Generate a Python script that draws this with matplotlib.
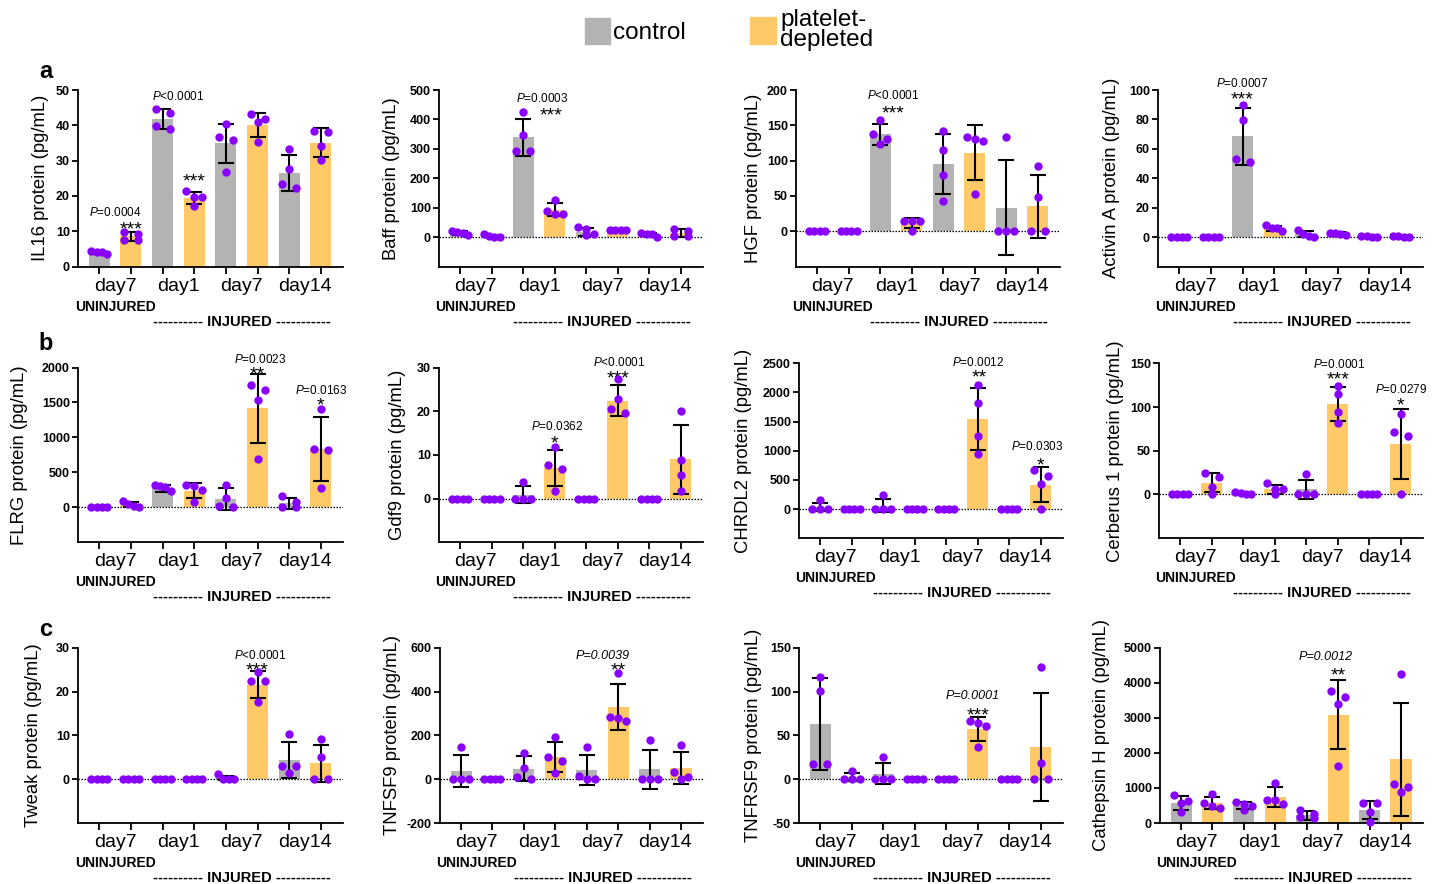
import matplotlib.pyplot as plt
from matplotlib.patches import Rectangle
import numpy as np

plt.rcParams['font.family'] = 'Liberation Sans'
plt.rcParams['mathtext.fontset'] = 'custom'
plt.rcParams['mathtext.rm'] = 'Liberation Sans'
plt.rcParams['mathtext.it'] = 'Liberation Sans:italic'

W, H = 1438, 884
GRAY = '#b3b3b3'
ORANGE = '#fec966'
PURPLE = '#8800ff'

day_labels = ['day7', 'day1', 'day7', 'day14']

# ---- data: 8 groups per panel (control / platelet-depleted alternating)
il16_mean = [3.8, 8.5, 41.7, 19.4, 34.9, 40.2, 26.5, 35.1]
il16_sd = [0.4, 1.2, 2.8, 1.7, 5.6, 3.4, 5.0, 4.0]
il16_pts = [[3.6, 4.5, 4.0, 4.0], [7.5, 9.2, 9.9, 7.5], [43.6, 44.5, 38.9, 39.9], [21.4, 19.8, 19.8, 17.2],
            [40.4, 36.6, 35.8, 26.9], [41.7, 43.2, 40.8, 35.4], [33.3, 27.5, 22.2, 23.3], [38.0, 38.5, 34.2, 30.2]]

baff_mean = [14, 3, 339, 93, 18, 24, 8.5, 14]
baff_sd = [5.5, 4, 63, 22, 13, 1, 6, 14]
baff_pts = [[6, 19, 14, 17], [0, 9, 0, 2], [425, 348, 291, 291], [126, 88, 80, 80],
            [34, 29, 6, 11], [25, 25, 25, 23], [0, 14, 9, 11], [3, 21, 29, 2]]

hgf_mean = [0, 0, 137, 11, 95, 111, 33.5, 35]
hgf_sd = [0, 0, 15, 7, 43, 39, 67.5, 45]
hgf_pts = [[0, 0, 0, 0], [0, 0, 0, 0], [157, 138, 130, 123], [15, 15, 15, 0],
           [142, 115, 79, 43], [133, 128, 130, 52], [134, 0, 0, 0], [92, 49, 0, 0]]

act_mean = [0, 0, 68.5, 6, 2, 2.5, 0.3, 0.25]
act_sd = [0, 0, 19.4, 1.7, 1.8, 0.7, 0.3, 0.3]
act_pts = [[0, 0, 0, 0], [0, 0, 0, 0], [90, 79.5, 51, 53.4], [4, 8, 6.4, 6.4],
           [0, 4.5, 1, 2.3], [1.6, 3, 2.3, 3], [0, 0.7, 0.5, 0], [0, 0.5, 0.5, 0]]

flrg_mean = [0, 40, 270, 240, 118, 1416, 58, 835]
flrg_sd = [0, 42, 45, 110, 157, 490, 76, 460]
flrg_pts = [[0, 0, 0, 0], [0, 95, 14, 52], [324, 229, 300, 290], [324, 252, 310, 71],
            [324, 133, 0, 14], [1681, 1752, 1538, 695], [0, 76, 157, 0], [1410, 838, 814, 276]]

gdf9_mean = [0, 0, 0.93, 7.0, 0, 22.4, 0, 9.0]
gdf9_sd = [0, 0, 1.85, 4.1, 0, 3.6, 0, 7.9]
gdf9_pts = [[0, 0, 0, 0], [0, 0, 0, 0], [3.7, 0, 0, 0], [11.8, 7.7, 6.8, 1.8],
            [0, 0, 0, 0], [27.3, 22.8, 19.5, 20.5], [0, 0, 0, 0], [20, 8.9, 5.5, 1.7]]

chrdl2_mean = [37, 0, 58, 0, 0, 1540, 0, 420]
chrdl2_sd = [70, 0, 117, 0, 0, 533, 0, 297]
chrdl2_pts = [[148, 0, 0, 0], [0, 0, 0, 0], [234, 0, 0, 0], [0, 0, 0, 0],
              [0, 0, 0, 0], [2129, 1826, 1256, 947], [0, 0, 0, 0], [571, 673, 434, 0]]

cer_mean = [0, 13.3, 1.05, 6, 5.7, 103.5, 0, 57.6]
cer_sd = [0, 11, 1.2, 5.2, 11.4, 19, 0, 40]
cer_pts = [[0, 0, 0, 0], [19.5, 24.8, 8.8, 0], [0, 2.3, 0, 1.9], [12.6, 5.7, 5.7, 0],
           [22.9, 0, 0, 0], [124, 115, 94.7, 81.3], [0, 0, 0, 0], [92, 71.8, 66.8, 0]]

tweak_mean = [0, 0, 0, 0, 0.3, 21.6, 4.45, 3.6]
tweak_sd = [0, 0, 0, 0, 0.5, 3, 4.1, 4.3]
tweak_pts = [[0, 0, 0, 0], [0, 0, 0, 0], [0, 0, 0, 0], [0, 0, 0, 0],
             [0, 1.1, 0.15, 0], [24.4, 22.3, 22.3, 17.5], [10.4, 1.4, 3, 3], [9.2, 5.1, 0, 0]]

tnfsf9_mean = [37, 0, 46.5, 102, 40.5, 328, 44.5, 50]
tnfsf9_sd = [72, 0, 57, 67, 69, 105, 90, 72]
tnfsf9_pts = [[147, 0, 0, 0], [0, 0, 0, 0], [121, 53, 0, 12], [192, 103, 83, 30],
              [147, 0, 15, 0], [484, 267, 284, 277], [178, 0, 0, 0], [156, 33, 0, 11]]

tnfrsf9_mean = [63, 2.4, 6.3, 0, 0, 57, 0, 36.8]
tnfrsf9_sd = [53, 4.7, 12.3, 0, 0, 13.6, 0, 61.4]
tnfrsf9_pts = [[117, 101, 17, 17], [0, 9.4, 0, 0], [25.3, 0, 0, 0], [0, 0, 0, 0],
               [0, 0, 0, 0], [66, 64.2, 60.4, 37], [0, 0, 0, 0], [128.4, 18.9, 0, 0]]

cath_mean = [575, 573, 497, 748, 225, 3087, 369, 1813]
cath_sd = [200, 180, 95, 284, 128, 985, 260, 1620]
cath_pts = [[805, 616, 568, 312], [824, 426, 568, 473], [597, 540, 473, 379], [1155, 549, 644, 644],
            [379, 265, 142, 170], [3580, 3760, 3380, 1629], [568, 568, 312, 28], [4242, 1117, 871, 1023]]

# annotations: (x of P text, y of P text, P text, x of stars, y of stars, stars)
il16_ann = [(0.52, 15.6, '=0.0004', 1.0, 12.3, '***'), (2.5, 48.3, '<0.0001', 3.0, 25.7, '***')]
baff_ann = [(2.61, 474, '=0.0003', 2.89, 434, '***')]
hgf_ann = [(2.42, 194, '<0.0001', 2.41, 176, '***')]
act_ann = [(2.0, 105, '=0.0007', 2.0, 97.7, '***')]
flrg_ann = [(5.07, 2119, '=0.0023', 5.0, 1990, '**'), (7.0, 1681, '=0.0163', 7.0, 1538, '*')]
gdf9_ann = [(3.07, 16.6, '=0.0362', 3.0, 14.0, '*'), (5.05, 31.3, '<0.0001', 5.0, 29.0, '***')]
chrdl2_ann = [(5.0, 2529, '=0.0012', 5.05, 2357, '**'), (6.88, 1084, '=0.0303', 7.0, 856, '*')]
cer_ann = [(5.05, 150, '=0.0001', 5.02, 138.5, '***'), (7.0, 121.4, '=0.0279', 7.0, 108.8, '*')]
tweak_ann = [(5.08, 28.5, '<0.0001', 5.0, 26.2, '***')]
tnfsf9_ann = [(4.52, 570, '=0.0039', 5.0, 524, '**')]
tnfrsf9_ann = [(4.84, 96.3, '=0.0001', 5.0, 80, '***')]
cath_ann = [(4.61, 4782, '=0.0012', 5.0, 4375, '**')]

panels = [
    ('IL16 protein (pg/mL)', il16_mean, il16_sd, il16_pts, (0, 50), np.arange(0, 51, 10), il16_ann, False),
    ('Baff protein (pg/mL)', baff_mean, baff_sd, baff_pts, (-100, 500), np.arange(0, 501, 100), baff_ann, False),
    ('HGF protein (pg/mL)', hgf_mean, hgf_sd, hgf_pts, (-50, 200), np.arange(0, 201, 50), hgf_ann, False),
    ('Activin A protein (pg/mL)', act_mean, act_sd, act_pts, (-20, 100), np.arange(0, 101, 20), act_ann, False),
    ('FLRG protein (pg/mL)', flrg_mean, flrg_sd, flrg_pts, (-500, 2000), np.arange(0, 2001, 500), flrg_ann, False),
    ('Gdf9 protein (pg/mL)', gdf9_mean, gdf9_sd, gdf9_pts, (-10, 30), np.arange(0, 31, 10), gdf9_ann, False),
    ('CHRDL2 protein (pg/mL)', chrdl2_mean, chrdl2_sd, chrdl2_pts, (-500, 2500), np.arange(0, 2501, 500), chrdl2_ann, False),
    ('Cerberus 1 protein (pg/mL)', cer_mean, cer_sd, cer_pts, (-50, 150), np.arange(0, 151, 50), cer_ann, False),
    ('Tweak protein (pg/mL)', tweak_mean, tweak_sd, tweak_pts, (-10, 30), np.arange(0, 31, 10), tweak_ann, False),
    ('TNFSF9 protein (pg/mL)', tnfsf9_mean, tnfsf9_sd, tnfsf9_pts, (-200, 600), np.arange(-200, 601, 200), tnfsf9_ann, True),
    ('TNFRSF9 protein (pg/mL)', tnfrsf9_mean, tnfrsf9_sd, tnfrsf9_pts, (-50, 150), np.arange(-50, 151, 50), tnfrsf9_ann, True),
    ('Cathepsin H protein (pg/mL)', cath_mean, cath_sd, cath_pts, (0, 5000), np.arange(0, 5001, 1000), cath_ann, True),
]

# axes boxes in pixels: left, top, right, bottom ; ylabel distance from spine
boxes = [(78, 90, 343, 266.5), (439, 90, 703, 266.5), (796, 90, 1060, 266.5), (1158, 90, 1423, 266.5),
         (78, 367.5, 343, 542.3), (439, 367.5, 703, 542.3), (799, 363.3, 1063, 538.2), (1159, 363.3, 1423, 538.2),
         (78, 647.7, 343, 823), (440, 647.7, 703, 823), (799, 647.7, 1063, 823), (1160, 647.7, 1423, 823)]
ylab_off = [39, 49, 44, 48, 60, 43, 57, 45, 46, 49, 47, 60]

XLIM = (-0.67, 7.7)
colors = [GRAY, ORANGE] * 4


def swarm(vals, ppu_y, ppu_x):
    vals = np.asarray(vals, dtype=float)
    order = np.argsort(-vals, kind='stable')
    offs = np.zeros(len(vals))
    rows = []
    for idx in order:
        if rows and abs(vals[rows[-1][0]] - vals[idx]) * ppu_y < 7:
            rows[-1].append(idx)
        else:
            rows.append([idx])
    for row in rows:
        k = len(row)
        if k == 1:
            continue
        span = 14 if k == 2 else 16
        for j, idx in enumerate(row):
            offs[idx] = (-span / 2 + j * span / (k - 1)) / ppu_x
    return offs


fig = plt.figure(figsize=(W / 100, H / 100), dpi=100)

for i, (ylab, mean, sd, pts, ylim, yticks, ann, ital) in enumerate(panels):
    L, T, R, B = boxes[i]
    ax = fig.add_axes([L / W, 1 - B / H, (R - L) / W, (B - T) / H])
    x = np.arange(8)
    ax.bar(x, mean, width=0.67, color=colors, zorder=1)
    if ylim[0] < 0:
        ax.axhline(0, color='black', lw=0.9, ls=(0, (1.2, 1.2)), zorder=1.5)
    sd = np.asarray(sd, dtype=float)
    m = sd > 0
    ax.errorbar(x[m], np.asarray(mean)[m], yerr=sd[m], fmt='none', ecolor='black',
                elinewidth=1.5, capsize=6, capthick=1.5, zorder=3)
    ppu_y = (B - T) / (ylim[1] - ylim[0])
    ppu_x = (R - L) / (XLIM[1] - XLIM[0])
    for g in range(8):
        off = swarm(pts[g], ppu_y, ppu_x)
        ax.scatter(g + off, pts[g], s=36, color=PURPLE, zorder=4, linewidths=0, clip_on=False)

    ax.set_xlim(*XLIM)
    ax.set_ylim(*ylim)
    ax.set_yticks(yticks)
    ax.set_yticklabels([str(int(v)) for v in yticks], fontsize=9, fontweight='bold')
    ax.set_xticks(x)
    ax.set_xticklabels([])
    ax.tick_params(axis='y', length=4.3, width=1.3, pad=1.5)
    ax.tick_params(axis='x', length=5, width=1.3)
    for s in ['top', 'right']:
        ax.spines[s].set_visible(False)
    for s in ['left', 'bottom']:
        ax.spines[s].set_linewidth(1.3)
    ax.set_ylabel(ylab, fontsize=13.3)
    ax.yaxis.set_label_coords(-(ylab_off[i] - 10) / (R - L), 0.5)

    xt = ax.get_xaxis_transform()
    for k, lab in enumerate(day_labels):
        ax.annotate(lab, (2 * k + 0.5, 0), xycoords=xt, xytext=(0, -17.3), textcoords='offset points',
                    ha='center', va='baseline', fontsize=14, annotation_clip=False)
    ax.annotate('UNINJURED', (0.5, 0), xycoords=xt, xytext=(0, -31.7), textcoords='offset points',
                ha='center', va='baseline', fontsize=10, fontweight='bold', annotation_clip=False)
    ax.annotate('---------- INJURED -----------', (4.5, 0), xycoords=xt, xytext=(0, -42.5),
                textcoords='offset points', ha='center', va='baseline', fontsize=10.6,
                fontweight='bold', annotation_clip=False)

    for xp, yp, ptxt, xs, ys, stars in ann:
        if ital:
            ax.annotate('P' + ptxt, (xp, yp), xytext=(0, -3.3), textcoords='offset points',
                        ha='center', va='baseline', fontsize=9, fontstyle='italic',
                        annotation_clip=False)
        else:
            ax.annotate('$P$' + ptxt, (xp, yp), xytext=(0, -3.1), textcoords='offset points',
                        ha='center', va='baseline', fontsize=8.5, annotation_clip=False)
        ax.annotate(stars, (xs, ys), xytext=(0, -8), textcoords='offset points',
                    ha='center', va='baseline', fontsize=14, annotation_clip=False)

# panel letters
for lab, yy in [('a', 72), ('b', 343), ('c', 630)]:
    fig.text(46 / W, 1 - yy / H, lab, fontsize=17, fontweight='bold', ha='center', va='center')

# legend
fig.patches.append(Rectangle((585 / W, 1 - 44 / H), 25 / W, 26 / H, transform=fig.transFigure,
                             color=GRAY))
fig.text(613 / W, 1 - 33 / H, 'control', fontsize=17.5, ha='left', va='center')
fig.patches.append(Rectangle((750 / W, 1 - 44 / H), 26 / W, 27 / H, transform=fig.transFigure,
                             color=ORANGE))
fig.text(780 / W, 1 - 30 / H, 'platelet-\ndepleted', fontsize=17.5, ha='left', va='center',
         linespacing=0.85)

fig.savefig('out.png', dpi=100)
